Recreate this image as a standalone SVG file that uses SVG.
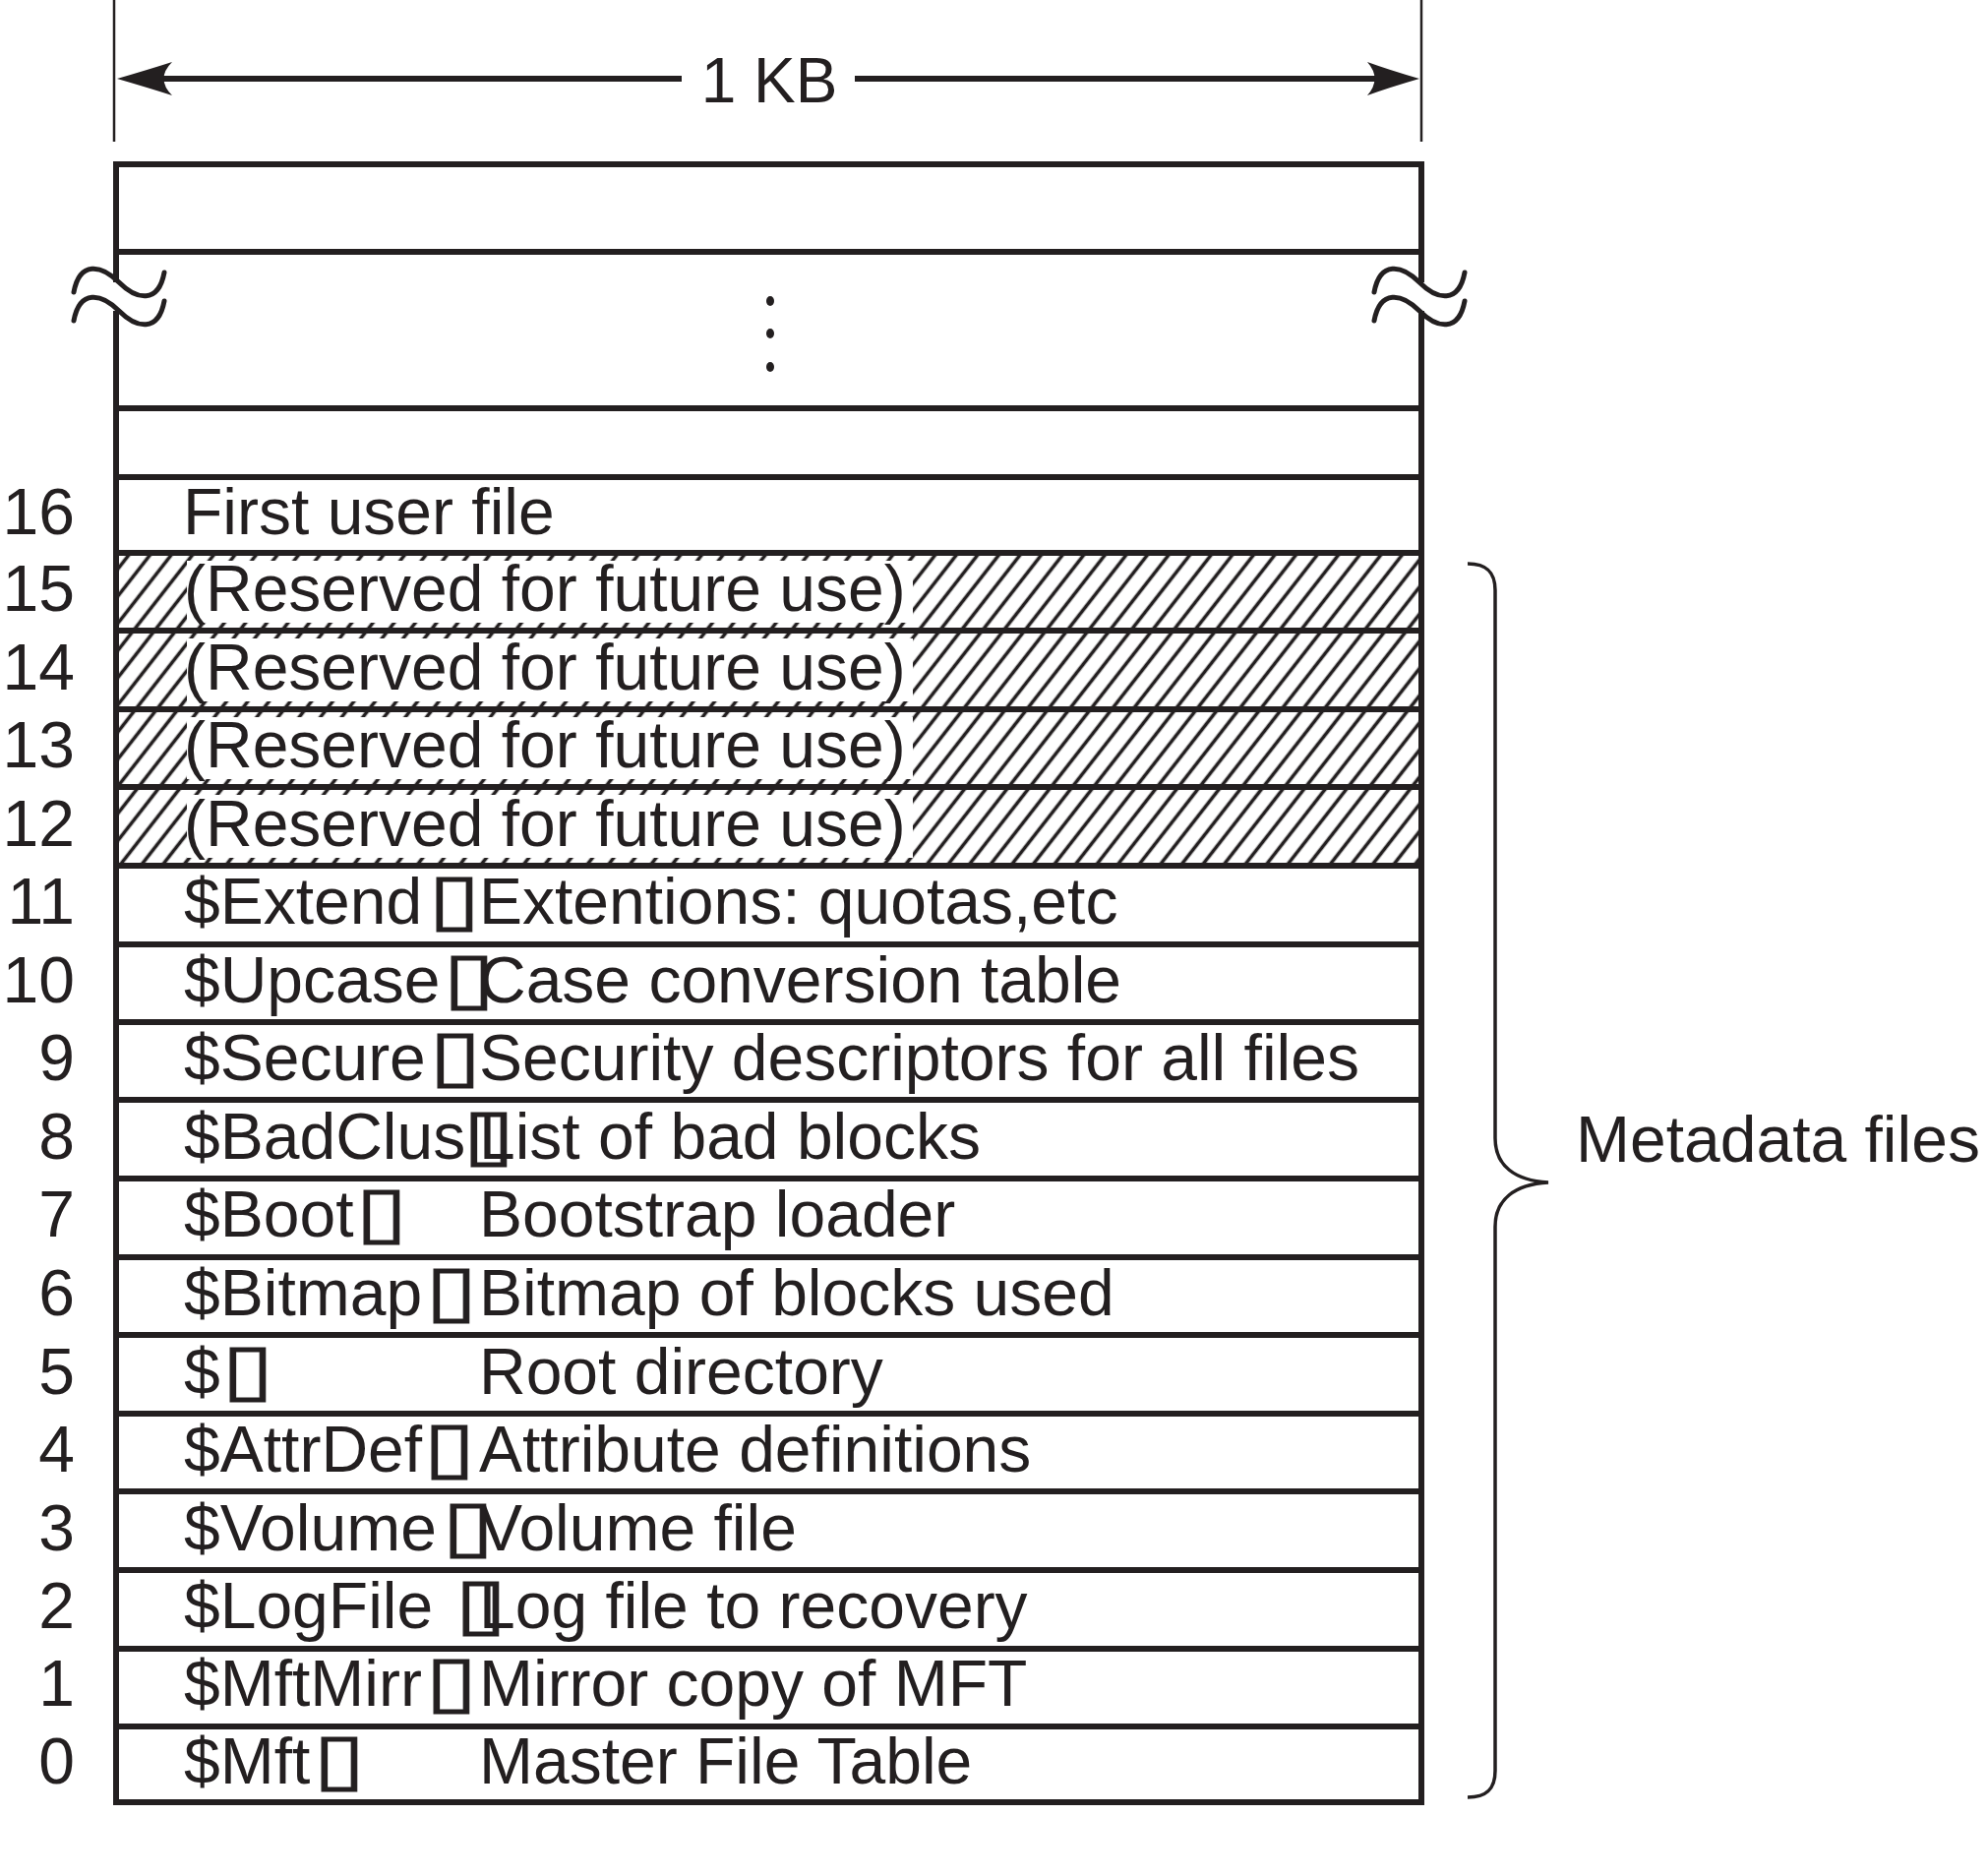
<svg xmlns="http://www.w3.org/2000/svg" width="2020" height="1907" viewBox="0 0 2020 1907">
<style>
.ln{stroke:#231f20;stroke-width:6;fill:none}
.thin{stroke:#231f20;stroke-width:2.5;fill:none}
.brk{stroke:#231f20;stroke-width:5;fill:none;stroke-linecap:round}
.t{font-family:"Liberation Sans",Arial,Helvetica,sans-serif;font-size:66px;fill:#231f20}
.n{font-family:"Liberation Sans",Arial,Helvetica,sans-serif;font-size:66px;fill:#231f20;text-anchor:end}
.bx{font-family:"DejaVu Sans",sans-serif;font-size:72px;fill:#231f20;stroke:#231f20;stroke-width:0.9}
</style>
<defs>
<pattern id="hatch" patternUnits="userSpaceOnUse" width="17" height="17" patternTransform="rotate(38)">
<line x1="8.5" y1="-2" x2="8.5" y2="19" stroke="#231f20" stroke-width="3.6"/>
</pattern>
<path id="tilde" d="M-46,10 C-40,-22 -18,-18 0,0 S40,22 46,-10"/>
</defs>
<rect width="2020" height="1907" fill="#fff"/>

<g id="dimension">
<line class="thin" x1="116" y1="0" x2="116" y2="144"/>
<line class="thin" x1="1445" y1="0" x2="1445" y2="144"/>
<line x1="150" y1="80" x2="693" y2="80" stroke="#231f20" stroke-width="6"/>
<line x1="869" y1="80" x2="1415" y2="80" stroke="#231f20" stroke-width="6"/>
<path d="M119,80 Q150,71 175,63 Q158,80 175,97 Q150,89 119,80 Z" fill="#231f20"/>
<path d="M1443,80 Q1412,71 1390,63 Q1405,80 1390,97 Q1412,89 1443,80 Z" fill="#231f20"/>
<text x="782" y="104" text-anchor="middle" style="font-family:'Liberation Sans',Arial,Helvetica,sans-serif;font-size:64px;fill:#231f20">1 KB</text>
</g>

<g id="hatched">
<rect x="121" y="562" width="1321" height="318" fill="url(#hatch)"/>
<rect x="190" y="570" width="738" height="63" fill="#fff"/>
<rect x="190" y="649" width="738" height="64" fill="#fff"/>
<rect x="190" y="729" width="738" height="63" fill="#fff"/>
<rect x="190" y="808" width="738" height="64" fill="#fff"/>
</g>

<g id="table">
<line class="ln" x1="115" y1="167" x2="1448" y2="167"/>
<line class="ln" x1="115" y1="256" x2="1448" y2="256"/>
<line class="ln" x1="115" y1="415" x2="1448" y2="415"/>
<line class="ln" x1="115" y1="485" x2="1448" y2="485"/>
<line class="ln" x1="115" y1="562" x2="1448" y2="562"/>
<line class="ln" x1="115" y1="641" x2="1448" y2="641"/>
<line class="ln" x1="115" y1="721" x2="1448" y2="721"/>
<line class="ln" x1="115" y1="800" x2="1448" y2="800"/>
<line class="ln" x1="115" y1="880" x2="1448" y2="880"/>
<line class="ln" x1="115" y1="960" x2="1448" y2="960"/>
<line class="ln" x1="115" y1="1039" x2="1448" y2="1039"/>
<line class="ln" x1="115" y1="1118" x2="1448" y2="1118"/>
<line class="ln" x1="115" y1="1198" x2="1448" y2="1198"/>
<line class="ln" x1="115" y1="1278" x2="1448" y2="1278"/>
<line class="ln" x1="115" y1="1357" x2="1448" y2="1357"/>
<line class="ln" x1="115" y1="1437" x2="1448" y2="1437"/>
<line class="ln" x1="115" y1="1516" x2="1448" y2="1516"/>
<line class="ln" x1="115" y1="1596" x2="1448" y2="1596"/>
<line class="ln" x1="115" y1="1676" x2="1448" y2="1676"/>
<line class="ln" x1="115" y1="1755" x2="1448" y2="1755"/>
<line class="ln" x1="115" y1="1832" x2="1448" y2="1832"/>
<line class="ln" x1="118" y1="164" x2="118" y2="287"/>
<line class="ln" x1="118" y1="316" x2="118" y2="1835"/>
<line class="ln" x1="1445" y1="164" x2="1445" y2="287"/>
<line class="ln" x1="1445" y1="316" x2="1445" y2="1835"/>
<use href="#tilde" class="brk" transform="translate(121,287)"/>
<use href="#tilde" class="brk" transform="translate(121,316)"/>
<use href="#tilde" class="brk" transform="translate(1443,287)"/>
<use href="#tilde" class="brk" transform="translate(1443,316)"/>
<ellipse cx="783" cy="306" rx="4" ry="5" fill="#231f20"/>
<ellipse cx="783" cy="339" rx="4" ry="5" fill="#231f20"/>
<ellipse cx="783" cy="373" rx="4" ry="5" fill="#231f20"/>
</g>

<g id="labels">
<text class="n" x="76" y="543">16</text>
<text class="n" x="76" y="621">15</text>
<text class="n" x="76" y="701">14</text>
<text class="n" x="76" y="780">13</text>
<text class="n" x="76" y="860">12</text>
<text class="n" x="76" y="939">11</text>
<text class="n" x="76" y="1019">10</text>
<text class="n" x="76" y="1098">9</text>
<text class="n" x="76" y="1178">8</text>
<text class="n" x="76" y="1257">7</text>
<text class="n" x="76" y="1337">6</text>
<text class="n" x="76" y="1417">5</text>
<text class="n" x="76" y="1496">4</text>
<text class="n" x="76" y="1576">3</text>
<text class="n" x="76" y="1655">2</text>
<text class="n" x="76" y="1734">1</text>
<text class="n" x="76" y="1813">0</text>

<text class="t" x="186" y="543">First user file</text>
<text class="t" x="187" y="621">(Reserved for future use)</text>
<text class="t" x="187" y="701">(Reserved for future use)</text>
<text class="t" x="187" y="780">(Reserved for future use)</text>
<text class="t" x="187" y="860">(Reserved for future use)</text>

<text class="t"><tspan x="187" y="939">$Extend</tspan><tspan x="487" y="939">Extentions: quotas,etc</tspan></text>
<text class="t"><tspan x="187" y="1019">$Upcase</tspan><tspan x="487" y="1019">Case conversion table</tspan></text>
<text class="t"><tspan x="187" y="1098">$Secure</tspan><tspan x="487" y="1098">Security descriptors for all files</tspan></text>
<text class="t"><tspan x="187" y="1178">$BadClus</tspan><tspan x="487" y="1178">List of bad blocks</tspan></text>
<text class="t"><tspan x="187" y="1257">$Boot</tspan><tspan x="487" y="1257">Bootstrap loader</tspan></text>
<text class="t"><tspan x="187" y="1337">$Bitmap</tspan><tspan x="487" y="1337">Bitmap of blocks used</tspan></text>
<text class="t"><tspan x="187" y="1417">$</tspan><tspan x="487" y="1417">Root directory</tspan></text>
<text class="t"><tspan x="187" y="1496">$AttrDef</tspan><tspan x="487" y="1496">Attribute definitions</tspan></text>
<text class="t"><tspan x="187" y="1576">$Volume</tspan><tspan x="487" y="1576">Volume file</tspan></text>
<text class="t"><tspan x="187" y="1655">$LogFile </tspan><tspan x="487" y="1655">Log file to recovery</tspan></text>
<text class="t"><tspan x="187" y="1734">$MftMirr</tspan><tspan x="487" y="1734">Mirror copy of MFT</tspan></text>
<text class="t"><tspan x="187" y="1813">$Mft</tspan><tspan x="487" y="1813">Master File Table</tspan></text>

<text class="t" x="1602" y="1181">Metadata files</text>
</g>

<g id="boxes">
<text class="bx" transform="translate(435,938) scale(1.35,1)">▯</text>
<text class="bx" transform="translate(450,1018) scale(1.35,1)">▯</text>
<text class="bx" transform="translate(436,1097) scale(1.35,1)">▯</text>
<text class="bx" transform="translate(470,1177) scale(1.35,1)">▯</text>
<text class="bx" transform="translate(361,1256) scale(1.35,1)">▯</text>
<text class="bx" transform="translate(432,1336) scale(1.35,1)">▯</text>
<text class="bx" transform="translate(225,1416) scale(1.35,1)">▯</text>
<text class="bx" transform="translate(430,1495) scale(1.35,1)">▯</text>
<text class="bx" transform="translate(449,1575) scale(1.35,1)">▯</text>
<text class="bx" transform="translate(462,1654) scale(1.35,1)">▯</text>
<text class="bx" transform="translate(432,1733) scale(1.35,1)">▯</text>
<text class="bx" transform="translate(318,1812) scale(1.35,1)">▯</text>
</g>

<g id="brace">
<path d="M1492,573 C1512,573 1520,582 1520,600 L1520,1157 C1520,1185 1540,1200 1574,1202 C1540,1204 1520,1219 1520,1247 L1520,1800 C1520,1818 1512,1827 1492,1827" stroke="#231f20" stroke-width="3.5" fill="none"/>
</g>
</svg>
